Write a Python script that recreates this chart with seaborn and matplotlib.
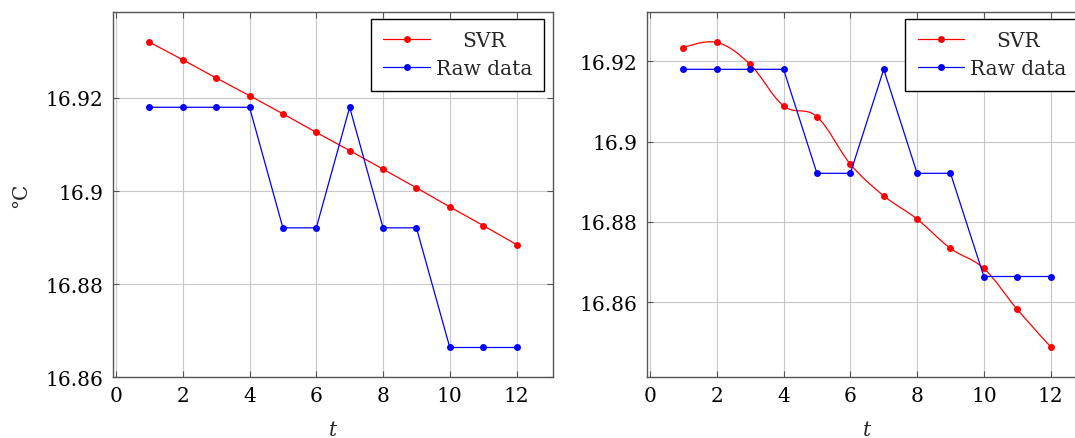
import numpy as np
import pandas as pd
import seaborn as sns
import matplotlib.pyplot as plt
from matplotlib.path import Path
from matplotlib.patches import PathPatch
from matplotlib.lines import Line2D

# data
t = list(range(1, 13))
raw = [16.918, 16.918, 16.918, 16.918, 16.8921, 16.8921,
       16.918, 16.8921, 16.8921, 16.8664, 16.8664, 16.8664]
svr_left = [16.932, 16.9282, 16.9243, 16.9205, 16.9166, 16.9126,
            16.9087, 16.9047, 16.9007, 16.8966, 16.8926, 16.8885]
svr_right = [16.9234, 16.9247, 16.9192, 16.9089, 16.9062, 16.8944,
             16.8865, 16.8807, 16.8734, 16.8684, 16.8582, 16.8489]
x_ticks = [0, 2, 4, 6, 8, 10, 12]
y_ticks = [16.86, 16.88, 16.9, 16.92]
y_ticklabels = ["16.86", "16.88", "16.9", "16.92"]

sns.set_theme(style="white")
plt.rcParams["font.family"] = ["DejaVu Serif"]
plt.rcParams["mathtext.fontset"] = "dejavuserif"
FS = 14.5


def smooth_path(x, y, k=0.18):
    # bezier through the points, like tikz "smooth"
    pts = np.column_stack([x, y]).astype(float)
    d = np.zeros_like(pts)
    d[1:-1] = pts[2:] - pts[:-2]
    verts = [pts[0]]
    codes = [Path.MOVETO]
    for i in range(len(pts) - 1):
        verts += [pts[i] + k * d[i], pts[i + 1] - k * d[i + 1], pts[i + 1]]
        codes += [Path.CURVE4] * 3
    return Path(verts, codes)


fig = plt.figure(figsize=(10.75, 4.39), dpi=100)
ax1 = fig.add_axes([0.1048, 0.1383, 0.4099, 0.8314])
ax2 = fig.add_axes([0.6016, 0.1383, 0.4099, 0.8314])

lw = 0.9
ms = 5
panels = [(ax1, svr_left, (16.86, 16.9384), False),
          (ax2, svr_right, (16.8413, 16.9322), True)]

for ax, svr, ylim, smooth in panels:
    df = pd.DataFrame({"t": t, "svr": svr, "raw": raw})
    sns.lineplot(data=df, x="t", y="svr", ax=ax, color="red", marker="o",
                 markersize=ms, markeredgewidth=0, linewidth=lw,
                 linestyle="none" if smooth else "-", zorder=3)
    if smooth:
        ax.add_patch(PathPatch(smooth_path(df["t"], df["svr"]), fill=False,
                               edgecolor="red", linewidth=lw, zorder=2.9))
    sns.lineplot(data=df, x="t", y="raw", ax=ax, color="blue", marker="o",
                 markersize=ms, markeredgewidth=0, linewidth=lw, zorder=4)

    ax.set_xlim(-0.1, 13.1)
    ax.set_ylim(*ylim)
    ax.set_xticks(x_ticks)
    ax.set_xticklabels([str(v) for v in x_ticks])
    ax.set_yticks(y_ticks)
    ax.set_yticklabels(y_ticklabels)
    ax.grid(True, color="#c8c8c8", linewidth=0.8)
    ax.set_axisbelow(True)
    for s in ax.spines.values():
        s.set_color("#555555")
        s.set_linewidth(1.0)
    ax.tick_params(axis="both", which="both", direction="in", length=4,
                   width=0.8, color="#555555", top=True, right=True,
                   bottom=True, left=True, labelsize=FS, labelcolor="black")
    ax.tick_params(axis="x", pad=6)
    ax.tick_params(axis="y", pad=6.5)
    ax.set_xlabel("$t$", fontsize=FS, labelpad=11)
    ax.set_ylabel("")

    handles = [Line2D([], [], color="red", marker="o", markersize=ms,
                      markeredgewidth=0, linewidth=lw),
               Line2D([], [], color="blue", marker="o", markersize=ms,
                      markeredgewidth=0, linewidth=lw)]
    leg = ax.legend(handles, ["SVR", "Raw data"], loc="upper right",
                    bbox_to_anchor=(1 - 9 / 440.6, 1 - 7 / 365),
                    borderaxespad=0, fontsize=FS, frameon=True,
                    fancybox=False, framealpha=1, handlelength=2.3,
                    handletextpad=0.3, borderpad=0.6, labelspacing=0.45)
    leg.get_frame().set_edgecolor("black")
    leg.get_frame().set_linewidth(1.0)
    leg.set_zorder(10)

ax1.set_ylabel("°C", fontsize=FS, labelpad=11)

# centre the short label in the legend column, as pgfplots does
fig.canvas.draw()
r = fig.canvas.get_renderer()
for ax in (ax1, ax2):
    texts = ax.get_legend().get_texts()
    w = [tx.get_window_extent(r).width for tx in texts]
    texts[0].set_x((max(w) - w[0]) / 2)

fig.savefig("out.png", dpi=100)
